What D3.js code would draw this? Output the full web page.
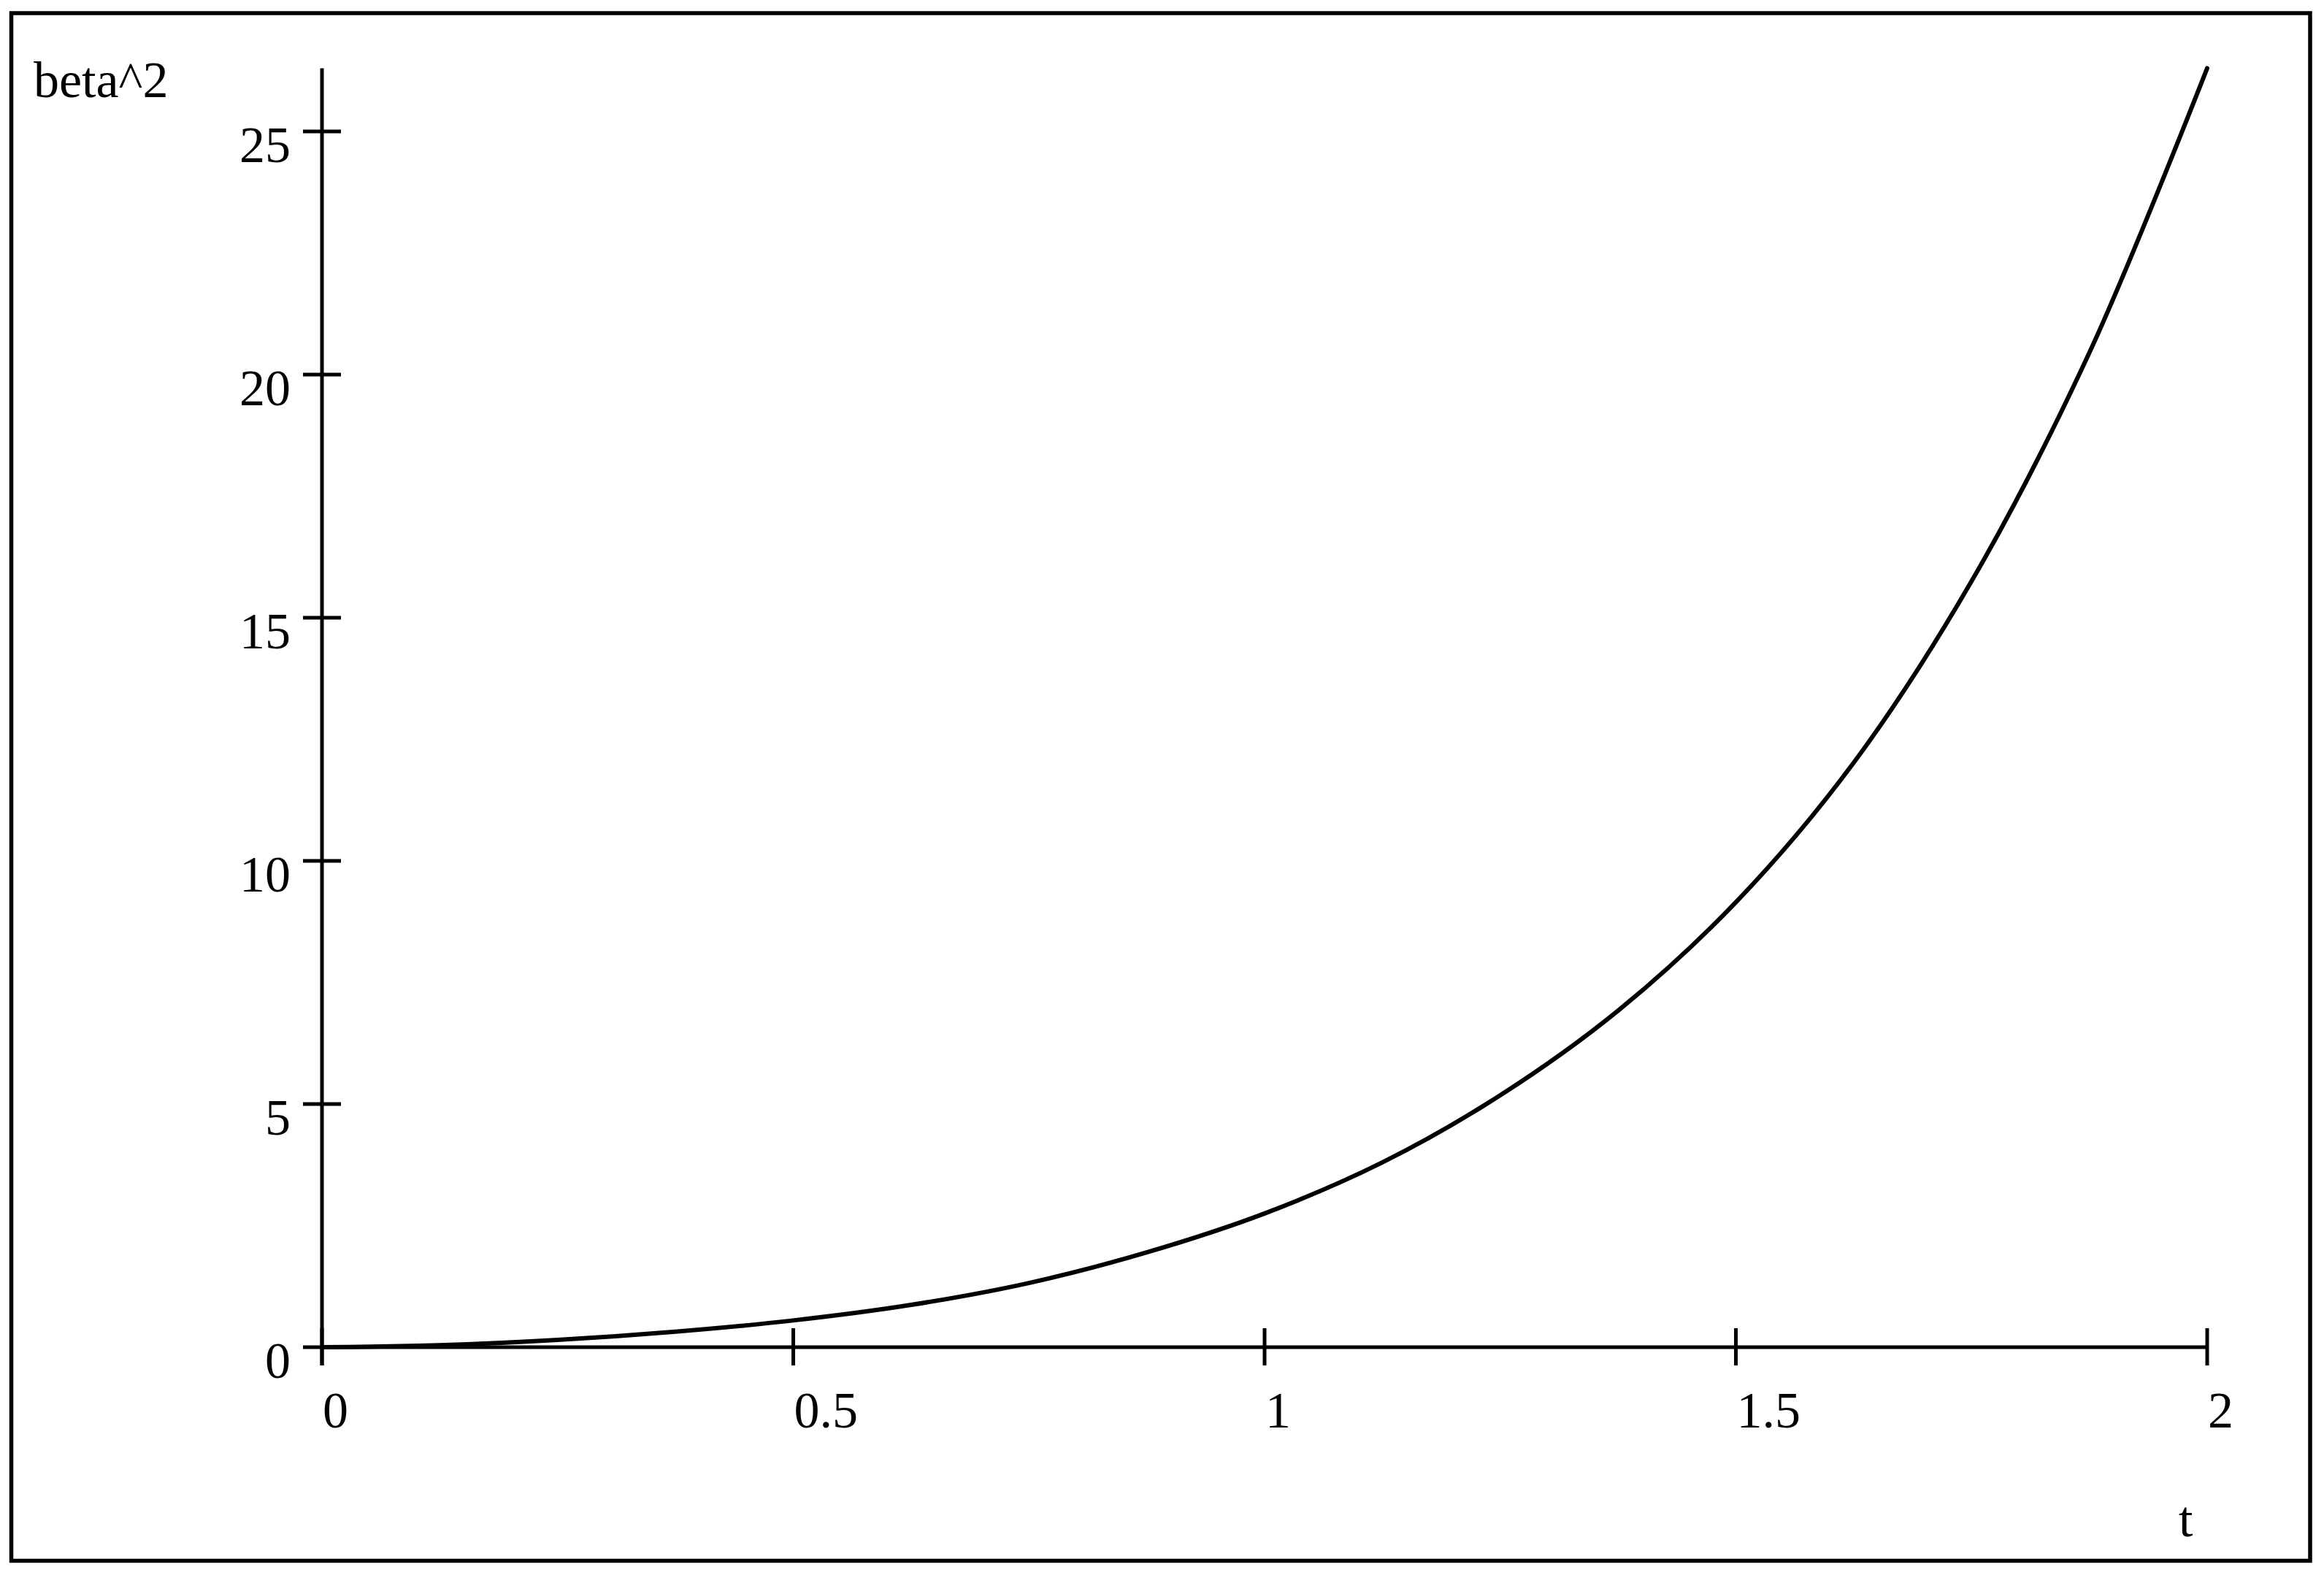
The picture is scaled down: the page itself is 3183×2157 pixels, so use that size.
<!DOCTYPE html>
<html>
<head>
<meta charset="utf-8">
<script src="https://cdn.jsdelivr.net/npm/d3@7"></script>
<style>
  html, body { margin: 0; padding: 0; background: #fff; }
  svg { display: block; }
  text { font-family: "Liberation Serif", "Times New Roman", serif; fill: #000; }
</style>
</head>
<body>
<script>
// ---- data ----
const tValues = [0, 0.125, 0.25, 0.375, 0.5, 0.625, 0.75, 0.875, 1.0, 1.125, 1.25, 1.375, 1.5, 1.625, 1.75, 1.875, 2.0];
const betaSq  = [0, 0.04, 0.15, 0.32, 0.55, 0.87, 1.32, 1.95, 2.75, 3.80, 5.18, 6.92, 9.15, 12.02, 15.75, 20.45, 26.3];
const xTicks = [0, 0.5, 1, 1.5, 2];
const xTickLabels = ["0", "0.5", "1", "1.5", "2"];
const yTicks = [0, 5, 10, 15, 20, 25];
const yTickLabels = ["0", "5", "10", "15", "20", "25"];
const xLabel = "t";
const yLabel = "beta^2";

const W = 3183, H = 2157;
const svg = d3.select("body").append("svg").attr("width", W).attr("height", H);

svg.append("rect").attr("width", W).attr("height", H).attr("fill", "#fff");
// outer frame
svg.append("rect")
  .attr("x", 15.5).attr("y", 18).attr("width", 3164 - 15.5).attr("height", 2137.5 - 18)
  .attr("fill", "none").attr("stroke", "#000").attr("stroke-width", 5.5);

const x = d3.scaleLinear().domain([0, 2]).range([441, 3023]);
const y = d3.scaleLinear().domain([0, 25]).range([1845, 180]);

const tick = 26;
const axisW = 5;

// y axis line (extends up to the top of the curve)
svg.append("line")
  .attr("x1", x(0)).attr("x2", x(0))
  .attr("y1", y(d3.max(betaSq))).attr("y2", y(0) + tick - 1)
  .attr("stroke", "#000").attr("stroke-width", axisW);
// x axis line
svg.append("line")
  .attr("x1", x(0)).attr("x2", x(2))
  .attr("y1", y(0)).attr("y2", y(0))
  .attr("stroke", "#000").attr("stroke-width", axisW);

// y ticks
svg.selectAll(".yt").data(yTicks).enter().append("line")
  .attr("x1", x(0) - tick).attr("x2", x(0) + tick)
  .attr("y1", d => y(d)).attr("y2", d => y(d))
  .attr("stroke", "#000").attr("stroke-width", axisW);
svg.selectAll(".yl").data(yTicks).enter().append("text")
  .attr("x", 398).attr("y", d => y(d) + 42)
  .attr("text-anchor", "end").attr("font-size", 70)
  .text((d, i) => yTickLabels[i]);

// x ticks
svg.selectAll(".xt").data(xTicks).enter().append("line")
  .attr("x1", d => x(d)).attr("x2", d => x(d))
  .attr("y1", y(0) - tick).attr("y2", y(0) + tick - 1)
  .attr("stroke", "#000").attr("stroke-width", axisW);
svg.selectAll(".xl").data(xTicks).enter().append("text")
  .attr("x", d => x(d) + 1).attr("y", 1955)
  .attr("text-anchor", "start").attr("font-size", 70)
  .text((d, i) => xTickLabels[i]);

// axis titles
svg.append("text").attr("x", 46).attr("y", 133).attr("font-size", 70).text(yLabel);
svg.append("text").attr("x", 2984).attr("y", 2104).attr("font-size", 70).text(xLabel);

// curve
const pts = tValues.map((t, i) => [t, betaSq[i]]);
const line = d3.line().x(d => x(d[0])).y(d => y(d[1])).curve(d3.curveCatmullRom.alpha(0.5));
svg.append("path").datum(pts)
  .attr("d", line)
  .attr("fill", "none").attr("stroke", "#000").attr("stroke-width", 6)
  .attr("stroke-linecap", "round").attr("stroke-linejoin", "round");
</script>
</body>
</html>
